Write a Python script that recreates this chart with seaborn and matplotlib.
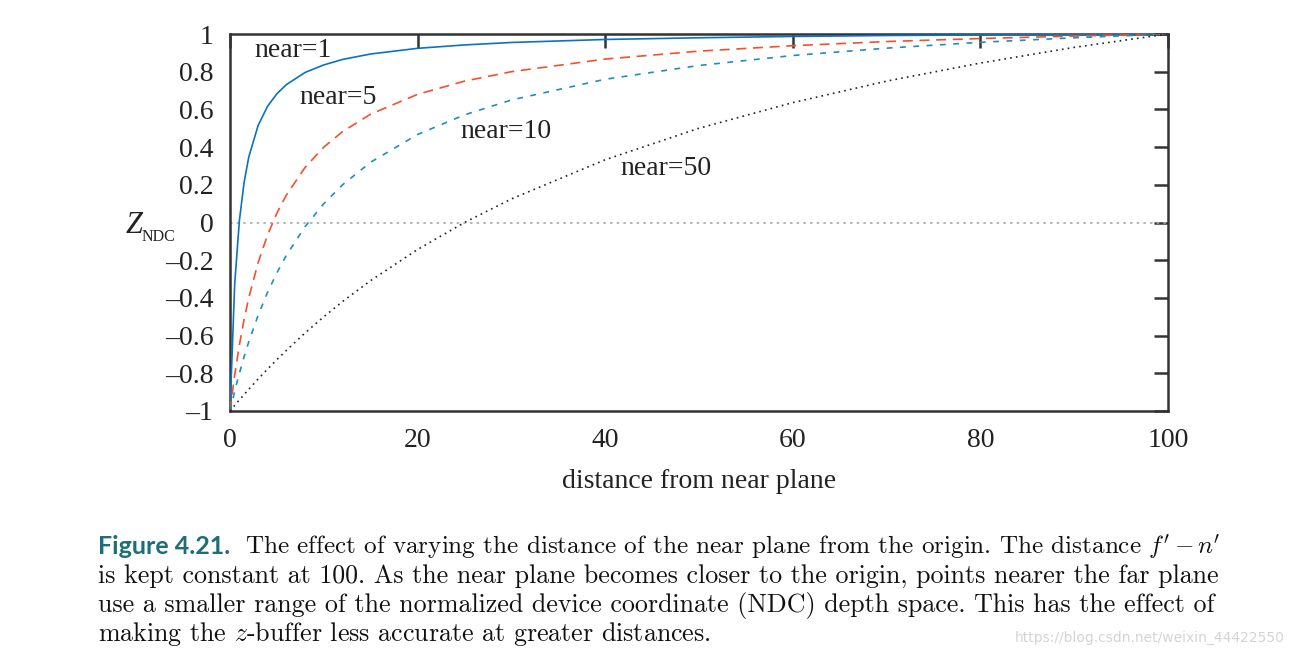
import matplotlib
matplotlib.use("Agg")
import matplotlib.pyplot as plt
import seaborn as sns

sns.set_theme(style="white")
plt.rcParams['font.family'] = ['Liberation Serif', 'DejaVu Serif']
plt.rcParams['mathtext.fontset'] = 'stix'

# ---- data ----
distance = [0, 0.5, 1, 1.5, 2, 3, 4, 5, 6, 8, 10, 12, 15, 20, 25, 30, 40, 50, 60, 70, 80, 90, 100]
near1 = [-1.0, -0.327, 0.01, 0.212, 0.347, 0.515, 0.616, 0.683, 0.731, 0.796, 0.836, 0.865, 0.894,
         0.924, 0.942, 0.955, 0.971, 0.980, 0.987, 0.992, 0.995, 0.998, 1.0]
near5 = [-1.0, -0.809, -0.65, -0.515, -0.4, -0.2125, -0.067, 0.05, 0.145, 0.292, 0.4, 0.482, 0.575,
         0.68, 0.75, 0.8, 0.867, 0.909, 0.938, 0.96, 0.976, 0.989, 1.0]
near10 = [-1.0, -0.895, -0.8, -0.713, -0.633, -0.492, -0.371, -0.267, -0.175, -0.022, 0.1, 0.2, 0.32,
          0.467, 0.571, 0.65, 0.76, 0.833, 0.886, 0.925, 0.956, 0.98, 1.0]
near50 = [-1.0, -0.970, -0.941, -0.913, -0.885, -0.830, -0.778, -0.727, -0.679, -0.586, -0.5, -0.419, -0.308,
          -0.143, 0.0, 0.125, 0.333, 0.5, 0.636, 0.75, 0.846, 0.929, 1.0]
series_names = ["near=1", "near=5", "near=10", "near=50"]
xticks = [0, 20, 40, 60, 80, 100]
yticks = [-1, -0.8, -0.6, -0.4, -0.2, 0, 0.2, 0.4, 0.6, 0.8, 1]
ytick_labels = ["\u20131", "\u20130.8", "\u20130.6", "\u20130.4", "\u20130.2", "0", "0.2", "0.4", "0.6", "0.8", "1"]

fig = plt.figure(figsize=(12.95, 6.57), dpi=100)
ax = fig.add_axes([230 / 1295, 1 - 411 / 657, 938 / 1295, 377 / 657])

ax.axhline(0, color="#a8a8a8", lw=1.2, ls=(0, (1.5, 2.5)), zorder=1)

styles = [
    dict(color="#0a72c0", lw=1.2, ls="-"),
    dict(color="#f4502a", lw=1.2, ls=(0, (6, 4))),
    dict(color="#1f8cc4", lw=1.2, ls=(0, (3.5, 4.5))),
    dict(color="#222222", lw=1.2, ls=(0, (1, 2.5))),
]
for vals, st in zip([near1, near5, near10, near50], styles):
    sns.lineplot(x=distance, y=vals, ax=ax, color=st["color"], lw=st["lw"], linestyle=st["ls"], zorder=3)

label_pos = [(2.6, 0.915), (7.4, 0.665), (24.6, 0.485), (41.6, 0.285)]
for name, (lx, ly) in zip(series_names, label_pos):
    ax.text(lx, ly, name, fontsize=20, va="center", ha="left", color="#222222")

ax.set_xlim(0, 100)
ax.set_ylim(-1, 1)
ax.set_xticks(xticks)
ax.set_xticklabels([str(t) for t in xticks])
ax.set_yticks(yticks)
ax.set_yticklabels(ytick_labels)
ax.tick_params(direction="in", length=10, width=1.8, color="#333333", top=True, right=True,
               labelsize=20, labelcolor="#222222")
ax.tick_params(axis="x", pad=12)
ax.tick_params(axis="y", pad=12)
for sp in ax.spines.values():
    sp.set_color("#333333")
    sp.set_linewidth(1.8)
    sp.set_visible(True)
ax.set_xlabel("distance from near plane", fontsize=20, color="#222222", labelpad=12)
ax.set_ylabel("")

fig.text(126 / 1295, 1 - 233 / 657, "Z", fontsize=22, style="italic", ha="left", va="baseline", color="#222222")
fig.text(142 / 1295, 1 - 241 / 657, "NDC", fontsize=11.5, ha="left", va="baseline", color="#222222")

# caption
cap_font = dict(family="cmr10", fontsize=18.7, color="#111111", ha="left", va="baseline", math_fontfamily="cm")
cap_first = dict(cap_font, fontsize=18.1)
y0 = 554
dy = 29
fig.text(98 / 1295, 1 - y0 / 657, "Figure 4.21.", family="Lato", fontweight="bold", fontsize=18,
         color="#1d6e78", ha="left", va="baseline")
fig.text(245 / 1295, 1 - y0 / 657,
         "The effect of varying the distance of the near plane from the origin. The distance $f'\\,{-}\\,n'$",
         **cap_first)
fig.text(98 / 1295, 1 - (y0 + dy) / 657,
         "is kept constant at 100. As the near plane becomes closer to the origin, points nearer the far plane",
         **cap_font)
fig.text(98 / 1295, 1 - (y0 + 2 * dy) / 657,
         "use a smaller range of the normalized device coordinate (NDC) depth space. This has the effect of",
         **cap_font)
fig.text(98 / 1295, 1 - (y0 + 3 * dy) / 657,
         "making the $z$-buffer less accurate at greater distances.",
         **cap_font)

fig.text(1285 / 1295, 1 - 638 / 657, "https://blog.csdn.net/weixin_44422550", family="DejaVu Sans",
         fontsize=10, color="#d4d4d4", ha="right", va="center")

fig.savefig("out.png", dpi=100, facecolor="white")
